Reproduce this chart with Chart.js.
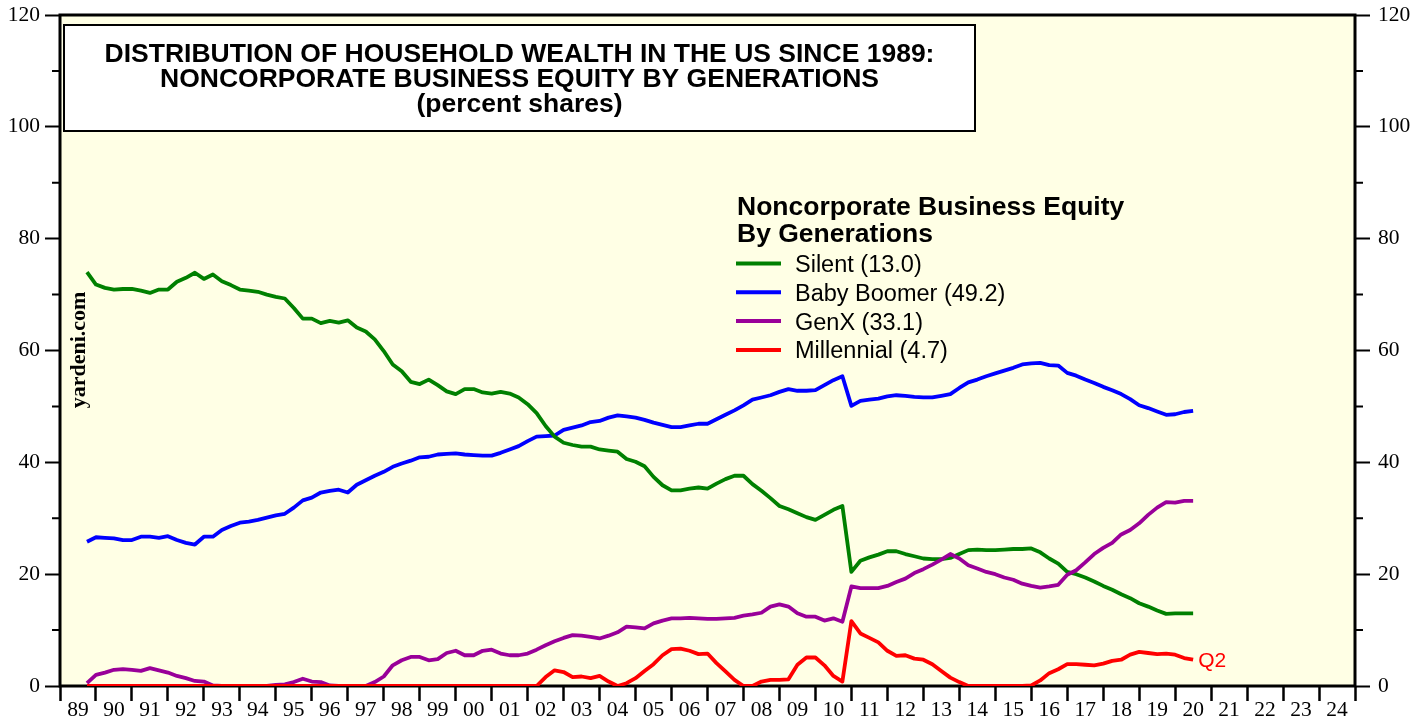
<!DOCTYPE html>
<html>
<head>
<meta charset="utf-8">
<script src="https://cdn.jsdelivr.net/npm/chart.js@4"></script>
<style>
html, body { margin: 0; padding: 0; background: #fff; }
#wrap { width: 1426px; height: 717px; position: relative; }
</style>
</head>
<body>
<div id="wrap"><canvas id="chart"></canvas></div>
<script>
// quarterly shares, 1989Q3 .. 2020Q2
const firstYear = 1989;
const firstQuarter = 3;

const seriesNames = ["Silent", "Baby Boomer", "GenX", "Millennial"];
const seriesColors = ["#008000", "#0000FF", "#990099", "#FF0000"];

const silent = [
  74.0, 71.8, 71.2, 70.9, 71.0, 71.0, 70.7, 70.3, 70.9, 70.9,
  72.3, 73.0, 73.9, 72.8, 73.6, 72.4, 71.7, 70.9, 70.7, 70.5,
  70.0, 69.6, 69.3, 67.6, 65.7, 65.7, 64.9, 65.3, 65.0, 65.4,
  64.1, 63.4, 62.0, 59.9, 57.5, 56.3, 54.4, 54.0, 54.8, 53.8,
  52.7, 52.2, 53.1, 53.1, 52.5, 52.3, 52.6, 52.3, 51.6, 50.4,
  48.8, 46.5, 44.6, 43.5, 43.1, 42.8, 42.8, 42.3, 42.1, 41.9,
  40.6, 40.1, 39.3, 37.4, 35.9, 35.0, 35.0, 35.3, 35.5, 35.3,
  36.2, 37.0, 37.6, 37.6, 36.1, 34.9, 33.6, 32.2, 31.6, 30.9,
  30.2, 29.7, 30.6, 31.5, 32.2, 20.4, 22.4, 23.0, 23.5, 24.1,
  24.1, 23.6, 23.2, 22.8, 22.7, 22.7, 22.9, 23.6, 24.3, 24.4,
  24.3, 24.3, 24.4, 24.5, 24.5, 24.6, 23.9, 22.8, 21.9, 20.4,
  20.0, 19.4, 18.7, 17.9, 17.2, 16.4, 15.7, 14.8, 14.2, 13.5,
  12.9, 13.0, 13.0, 13.0
];

const boomer = [
  25.8, 26.6, 26.5, 26.4, 26.1, 26.1, 26.7, 26.7, 26.5, 26.8,
  26.1, 25.6, 25.3, 26.7, 26.7, 27.9, 28.6, 29.2, 29.4, 29.7,
  30.1, 30.5, 30.8, 31.9, 33.2, 33.7, 34.6, 34.9, 35.1, 34.6,
  36.0, 36.8, 37.6, 38.3, 39.2, 39.8, 40.3, 40.9, 41.0, 41.4,
  41.5, 41.6, 41.4, 41.3, 41.2, 41.2, 41.7, 42.3, 42.9, 43.8,
  44.6, 44.7, 44.8, 45.8, 46.2, 46.6, 47.2, 47.4, 48.0, 48.4,
  48.2, 48.0, 47.6, 47.1, 46.7, 46.3, 46.3, 46.6, 46.9, 46.9,
  47.7, 48.5, 49.3, 50.2, 51.2, 51.6, 52.0, 52.6, 53.1, 52.8,
  52.8, 52.9, 53.8, 54.7, 55.4, 50.1, 51.0, 51.2, 51.4, 51.8,
  52.0, 51.9, 51.7, 51.6, 51.6, 51.9, 52.2, 53.3, 54.3, 54.8,
  55.4, 55.9, 56.4, 56.9, 57.5, 57.7, 57.8, 57.4, 57.3, 56.0,
  55.5, 54.8, 54.2, 53.5, 52.9, 52.2, 51.3, 50.2, 49.7, 49.1,
  48.5, 48.6, 49.0, 49.2
];

const genx = [
  0.5, 2.0, 2.4, 2.9, 3.0, 2.9, 2.7, 3.2, 2.8, 2.4,
  1.8, 1.4, 0.9, 0.8, 0.1, 0.0, 0.0, 0.0, 0.0, 0.0,
  0.0, 0.2, 0.3, 0.7, 1.3, 0.8, 0.7, 0.1, 0.0, 0.0,
  0.0, 0.0, 0.7, 1.7, 3.7, 4.6, 5.2, 5.2, 4.6, 4.8,
  5.9, 6.3, 5.5, 5.5, 6.3, 6.5, 5.8, 5.5, 5.5, 5.8,
  6.5, 7.3, 8.0, 8.6, 9.1, 9.0, 8.8, 8.5, 9.0, 9.6,
  10.6, 10.5, 10.3, 11.2, 11.7, 12.1, 12.1, 12.2, 12.1, 12.0,
  12.0, 12.1, 12.2, 12.6, 12.8, 13.1, 14.2, 14.6, 14.2, 13.0,
  12.4, 12.4, 11.7, 12.1, 11.5, 17.8, 17.5, 17.5, 17.5, 17.9,
  18.6, 19.2, 20.2, 20.9, 21.7, 22.6, 23.6, 22.8, 21.6, 21.0,
  20.4, 20.0, 19.4, 19.0, 18.3, 17.9, 17.6, 17.8, 18.1, 19.9,
  20.7, 22.1, 23.6, 24.7, 25.6, 27.1, 27.9, 29.1, 30.6, 31.9,
  32.9, 32.8, 33.1, 33.1
];

const millennial = [
  0.0, 0.0, 0.0, 0.0, 0.0, 0.0, 0.0, 0.0, 0.0, 0.0,
  0.0, 0.0, 0.0, 0.0, 0.0, 0.0, 0.0, 0.0, 0.0, 0.0,
  0.0, 0.0, 0.0, 0.0, 0.0, 0.0, 0.0, 0.0, 0.0, 0.0,
  0.0, 0.0, 0.0, 0.0, 0.0, 0.0, 0.0, 0.0, 0.0, 0.0,
  0.0, 0.0, 0.0, 0.0, 0.0, 0.0, 0.0, 0.0, 0.0, 0.0,
  0.0, 1.6, 2.8, 2.5, 1.6, 1.7, 1.4, 1.8, 0.8, 0.0,
  0.5, 1.4, 2.7, 3.9, 5.5, 6.6, 6.7, 6.3, 5.7, 5.8,
  4.1, 2.6, 1.1, 0.0, 0.0, 0.8, 1.1, 1.1, 1.2, 3.8,
  5.1, 5.1, 3.7, 1.8, 0.8, 11.6, 9.4, 8.6, 7.8, 6.3,
  5.4, 5.5, 4.9, 4.7, 3.9, 2.7, 1.5, 0.7, 0.0, 0.0,
  0.0, 0.0, 0.0, 0.0, 0.0, 0.1, 1.0, 2.3, 3.0, 3.9,
  3.9, 3.8, 3.7, 4.0, 4.5, 4.7, 5.6, 6.1, 5.9, 5.7,
  5.8, 5.6, 5.0, 4.7
];

const series = [silent, boomer, genx, millennial];
const drawOrder = [2, 3, 1, 0];

const quarters = silent.map((_, i) => {
  const q = firstQuarter - 1 + i;
  return (firstYear + Math.floor(q / 4)) + "Q" + (q % 4 + 1);
});
// position on the year axis: Q2 of a year sits at mid-year
const quarterPos = (label) => +label.slice(0, 4) + 0.25 * +label.slice(5);

const sans = '"Liberation Sans", Arial, sans-serif';
const serif = '"Liberation Serif", "Times New Roman", serif';

const decor = {
  id: "decor",
  beforeDraw(chart) {
    const { ctx, chartArea: a } = chart;
    ctx.save();
    ctx.fillStyle = "#FFFFE5";
    ctx.fillRect(a.left, a.top, a.right - a.left, a.bottom - a.top);
    ctx.restore();
  },
  beforeDatasetsDraw(chart) {
    const { ctx, chartArea: a, scales } = chart;
    ctx.save();
    ctx.strokeStyle = "#000";
    ctx.lineWidth = 2;
    for (let v = 10; v < 120; v += 20) {
      const y = scales.y.getPixelForValue(v);
      ctx.beginPath();
      ctx.moveTo(a.left - 8, y);
      ctx.lineTo(a.left, y);
      ctx.moveTo(a.right, y);
      ctx.lineTo(a.right + 8, y);
      ctx.stroke();
    }
    ctx.lineWidth = 3;
    ctx.strokeRect(a.left, a.top, a.right - a.left, a.bottom - a.top);

    // title box
    ctx.fillStyle = "#fff";
    ctx.lineWidth = 2;
    ctx.fillRect(a.left + 4, a.top + 10, 911, 106);
    ctx.strokeRect(a.left + 4, a.top + 10, 911, 106);
    ctx.fillStyle = "#000";
    ctx.textAlign = "center";
    ctx.textBaseline = "alphabetic";
    ctx.font = "bold 26.5px " + sans;
    const cx = a.left + 4 + 455.5;
    ctx.fillText("DISTRIBUTION OF HOUSEHOLD WEALTH IN THE US SINCE 1989:", cx, 62);
    ctx.fillText("NONCORPORATE BUSINESS EQUITY BY GENERATIONS", cx, 87);
    ctx.fillText("(percent shares)", cx, 112);

    // legend
    ctx.textAlign = "left";
    ctx.fillText("Noncorporate Business Equity", 737, 215);
    ctx.fillText("By Generations", 737, 241.5);
    ctx.font = "23.5px " + sans;
    chart.data.datasets.forEach((ds, i) => {
      const y = 263.5 + i * 28.8;
      ctx.strokeStyle = ds.borderColor;
      ctx.lineWidth = 4;
      ctx.beginPath();
      ctx.moveTo(736, y);
      ctx.lineTo(781, y);
      ctx.stroke();
      ctx.fillStyle = "#000";
      ctx.fillText(ds.label, 795, y + 8.5);
    });

    // watermark
    ctx.save();
    ctx.translate(79, 350);
    ctx.rotate(-Math.PI / 2);
    ctx.textAlign = "center";
    ctx.textBaseline = "middle";
    ctx.font = "bold 22px " + serif;
    ctx.fillText("yardeni.com", 0, 0);
    ctx.restore();
    ctx.restore();
  },
  afterDatasetsDraw(chart) {
    const { ctx, scales } = chart;
    const last = quarters.length - 1;
    const x = scales.x.getPixelForValue(quarterPos(quarters[last]));
    const y = scales.y.getPixelForValue(millennial[last]);
    ctx.save();
    ctx.fillStyle = "#FF0000";
    ctx.font = "21px " + sans;
    ctx.textAlign = "left";
    ctx.textBaseline = "middle";
    ctx.fillText("Q2", x + 5, y + 1);
    ctx.restore();
  }
};

const yAxis = (position, width, padding) => ({
  type: "linear",
  position,
  min: 0,
  max: 120,
  ticks: {
    stepSize: 20,
    color: "#000",
    padding,
    font: { family: serif, size: 21.5 }
  },
  grid: {
    drawOnChartArea: false,
    color: "#000",
    tickLength: 15,
    tickWidth: 2
  },
  border: { display: false },
  afterFit: (scale) => {
    scale.width = width;
    scale.paddingTop = 0;
    scale.paddingBottom = 0;
  }
});

new Chart(document.getElementById("chart"), {
  type: "line",
  data: {
    datasets: series.map((values, i) => ({
      label: seriesNames[i] + " (" + values[values.length - 1].toFixed(1) + ")",
      data: values.map((v, k) => ({ x: quarterPos(quarters[k]), y: v })),
      borderColor: seriesColors[i],
      borderWidth: 3.8,
      borderJoinStyle: "round",
      pointRadius: 0,
      tension: 0,
      order: drawOrder[i]
    }))
  },
  options: {
    responsive: true,
    maintainAspectRatio: false,
    animation: false,
    layout: { padding: { top: 15, left: 0, right: 0, bottom: 0 } },
    plugins: { legend: { display: false }, tooltip: { enabled: false } },
    scales: {
      x: {
        type: "linear",
        min: 1989,
        max: 2025,
        ticks: {
          stepSize: 1,
          maxTicksLimit: 100,
          autoSkip: false,
          maxRotation: 0,
          labelOffset: 18,
          padding: -1,
          color: "#000",
          font: { family: serif, size: 21.5, lineHeight: 1 },
          callback: (v) => (v < 2025 ? String(v % 100).padStart(2, "0") : "")
        },
        grid: {
          drawOnChartArea: false,
          color: "#000",
          tickLength: 15,
          tickWidth: 2.5
        },
        border: { display: false },
        afterFit: (scale) => {
          scale.height = 31;
          scale.paddingLeft = 0;
          scale.paddingRight = 0;
        }
      },
      y: yAxis("left", 60, 5),
      y2: yAxis("right", 71, 8)
    }
  },
  plugins: [decor]
});
</script>
</body>
</html>
